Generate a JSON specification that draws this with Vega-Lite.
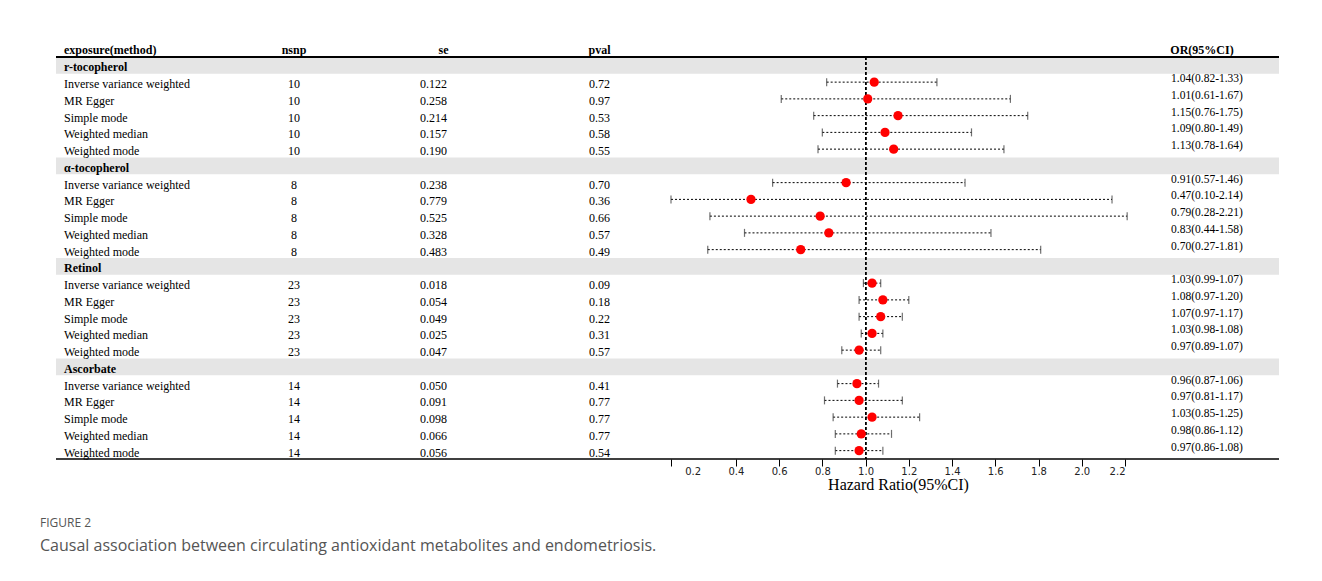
{
  "$schema": "https://vega.github.io/schema/vega-lite/v6.json",
  "background": "white",
  "padding": {"left": 40, "top": 44, "right": 5, "bottom": 5},
  "spacing": 0,
  "bounds": "flush",
  "title": {
    "text": "FIGURE 2",
    "subtitle": "Causal association between circulating antioxidant metabolites and endometriosis.",
    "orient": "bottom",
    "anchor": "start",
    "dx": -15,
    "offset": 26,
    "font": "Open Sans",
    "fontSize": 12,
    "fontWeight": "normal",
    "color": "#555555",
    "subtitleFont": "Open Sans",
    "subtitleFontSize": 16,
    "subtitleColor": "#555555",
    "subtitlePadding": 8
  },
  "data": {
    "values": [
      {"row": 1, "type": "group", "label": "r-tocopherol"},
      {"row": 2, "type": "method", "label": "Inverse variance weighted", "nsnp": "10", "se": "0.122", "pval": "0.72", "or": 1.04, "lo": 0.82, "hi": 1.33, "orci": "1.04(0.82-1.33)"},
      {"row": 3, "type": "method", "label": "MR Egger", "nsnp": "10", "se": "0.258", "pval": "0.97", "or": 1.01, "lo": 0.61, "hi": 1.67, "orci": "1.01(0.61-1.67)"},
      {"row": 4, "type": "method", "label": "Simple mode", "nsnp": "10", "se": "0.214", "pval": "0.53", "or": 1.15, "lo": 0.76, "hi": 1.75, "orci": "1.15(0.76-1.75)"},
      {"row": 5, "type": "method", "label": "Weighted median", "nsnp": "10", "se": "0.157", "pval": "0.58", "or": 1.09, "lo": 0.80, "hi": 1.49, "orci": "1.09(0.80-1.49)"},
      {"row": 6, "type": "method", "label": "Weighted mode", "nsnp": "10", "se": "0.190", "pval": "0.55", "or": 1.13, "lo": 0.78, "hi": 1.64, "orci": "1.13(0.78-1.64)"},
      {"row": 7, "type": "group", "label": "α-tocopherol"},
      {"row": 8, "type": "method", "label": "Inverse variance weighted", "nsnp": "8", "se": "0.238", "pval": "0.70", "or": 0.91, "lo": 0.57, "hi": 1.46, "orci": "0.91(0.57-1.46)"},
      {"row": 9, "type": "method", "label": "MR Egger", "nsnp": "8", "se": "0.779", "pval": "0.36", "or": 0.47, "lo": 0.10, "hi": 2.14, "orci": "0.47(0.10-2.14)"},
      {"row": 10, "type": "method", "label": "Simple mode", "nsnp": "8", "se": "0.525", "pval": "0.66", "or": 0.79, "lo": 0.28, "hi": 2.21, "orci": "0.79(0.28-2.21)"},
      {"row": 11, "type": "method", "label": "Weighted median", "nsnp": "8", "se": "0.328", "pval": "0.57", "or": 0.83, "lo": 0.44, "hi": 1.58, "orci": "0.83(0.44-1.58)"},
      {"row": 12, "type": "method", "label": "Weighted mode", "nsnp": "8", "se": "0.483", "pval": "0.49", "or": 0.70, "lo": 0.27, "hi": 1.81, "orci": "0.70(0.27-1.81)"},
      {"row": 13, "type": "group", "label": "Retinol"},
      {"row": 14, "type": "method", "label": "Inverse variance weighted", "nsnp": "23", "se": "0.018", "pval": "0.09", "or": 1.03, "lo": 0.99, "hi": 1.07, "orci": "1.03(0.99-1.07)"},
      {"row": 15, "type": "method", "label": "MR Egger", "nsnp": "23", "se": "0.054", "pval": "0.18", "or": 1.08, "lo": 0.97, "hi": 1.20, "orci": "1.08(0.97-1.20)"},
      {"row": 16, "type": "method", "label": "Simple mode", "nsnp": "23", "se": "0.049", "pval": "0.22", "or": 1.07, "lo": 0.97, "hi": 1.17, "orci": "1.07(0.97-1.17)"},
      {"row": 17, "type": "method", "label": "Weighted median", "nsnp": "23", "se": "0.025", "pval": "0.31", "or": 1.03, "lo": 0.98, "hi": 1.08, "orci": "1.03(0.98-1.08)"},
      {"row": 18, "type": "method", "label": "Weighted mode", "nsnp": "23", "se": "0.047", "pval": "0.57", "or": 0.97, "lo": 0.89, "hi": 1.07, "orci": "0.97(0.89-1.07)"},
      {"row": 19, "type": "group", "label": "Ascorbate"},
      {"row": 20, "type": "method", "label": "Inverse variance weighted", "nsnp": "14", "se": "0.050", "pval": "0.41", "or": 0.96, "lo": 0.87, "hi": 1.06, "orci": "0.96(0.87-1.06)"},
      {"row": 21, "type": "method", "label": "MR Egger", "nsnp": "14", "se": "0.091", "pval": "0.77", "or": 0.97, "lo": 0.81, "hi": 1.17, "orci": "0.97(0.81-1.17)"},
      {"row": 22, "type": "method", "label": "Simple mode", "nsnp": "14", "se": "0.098", "pval": "0.77", "or": 1.03, "lo": 0.85, "hi": 1.25, "orci": "1.03(0.85-1.25)"},
      {"row": 23, "type": "method", "label": "Weighted median", "nsnp": "14", "se": "0.066", "pval": "0.77", "or": 0.98, "lo": 0.86, "hi": 1.12, "orci": "0.98(0.86-1.12)"},
      {"row": 24, "type": "method", "label": "Weighted mode", "nsnp": "14", "se": "0.056", "pval": "0.54", "or": 0.97, "lo": 0.86, "hi": 1.08, "orci": "0.97(0.86-1.08)"}
    ]
  },
  "resolve": {"scale": {"x": "independent", "y": "shared"}},
  "hconcat": [
    {
      "width": 193,
      "height": 402,
      "title": {"text": "exposure(method)", "anchor": "start", "dx": 9, "offset": -1, "font": "Liberation Serif", "fontSize": 12, "fontWeight": "bold", "color": "black"},
      "layer": [
        {"transform": [{"filter": "datum.type === 'group'"}], "mark": {"type": "rect", "color": "#e5e5e5"}, "encoding": {"y": {"field": "row", "type": "ordinal", "axis": null, "scale": {"paddingInner": 0, "paddingOuter": 0}}}},
        {"transform": [{"filter": "datum.row === 1"}], "mark": {"type": "rule", "color": "black", "strokeWidth": 2}, "encoding": {"y": {"field": "row", "type": "ordinal", "bandPosition": 0}}},
        {"transform": [{"filter": "datum.row === 24"}], "mark": {"type": "rule", "color": "black", "strokeWidth": 1.5}, "encoding": {"y": {"field": "row", "type": "ordinal", "bandPosition": 1}}},
        {"transform": [{"filter": "datum.type === 'group'"}], "mark": {"type": "text", "align": "left", "dx": 8, "dy": 2, "font": "Liberation Serif", "fontSize": 12, "fontWeight": "bold", "color": "black"}, "encoding": {"y": {"field": "row", "type": "ordinal"}, "x": {"datum": 0, "type": "quantitative", "scale": {"domain": [0, 1]}, "axis": null}, "text": {"field": "label"}}},
        {"transform": [{"filter": "datum.type === 'method'"}], "mark": {"type": "text", "align": "left", "dx": 8, "dy": 2, "font": "Liberation Serif", "fontSize": 12, "color": "black"}, "encoding": {"y": {"field": "row", "type": "ordinal"}, "x": {"datum": 0, "type": "quantitative", "scale": {"domain": [0, 1]}, "axis": null}, "text": {"field": "label"}}}
      ]
    },
    {
      "width": 90,
      "height": 402,
      "title": {"text": "nsnp", "anchor": "middle", "offset": -1, "font": "Liberation Serif", "fontSize": 12, "fontWeight": "bold", "color": "black"},
      "layer": [
        {"transform": [{"filter": "datum.type === 'group'"}], "mark": {"type": "rect", "color": "#e5e5e5"}, "encoding": {"y": {"field": "row", "type": "ordinal", "axis": null, "scale": {"paddingInner": 0, "paddingOuter": 0}}}},
        {"transform": [{"filter": "datum.row === 1"}], "mark": {"type": "rule", "color": "black", "strokeWidth": 2}, "encoding": {"y": {"field": "row", "type": "ordinal", "bandPosition": 0}}},
        {"transform": [{"filter": "datum.row === 24"}], "mark": {"type": "rule", "color": "black", "strokeWidth": 1.5}, "encoding": {"y": {"field": "row", "type": "ordinal", "bandPosition": 1}}},
        {"transform": [{"filter": "datum.type === 'method'"}], "mark": {"type": "text", "dy": 2, "font": "Liberation Serif", "fontSize": 12, "color": "black"}, "encoding": {"y": {"field": "row", "type": "ordinal"}, "text": {"field": "nsnp"}}}
      ]
    },
    {
      "width": 189,
      "height": 402,
      "title": {"text": "se", "anchor": "middle", "dx": 10, "offset": -1, "font": "Liberation Serif", "fontSize": 12, "fontWeight": "bold", "color": "black"},
      "layer": [
        {"transform": [{"filter": "datum.type === 'group'"}], "mark": {"type": "rect", "color": "#e5e5e5"}, "encoding": {"y": {"field": "row", "type": "ordinal", "axis": null, "scale": {"paddingInner": 0, "paddingOuter": 0}}}},
        {"transform": [{"filter": "datum.row === 1"}], "mark": {"type": "rule", "color": "black", "strokeWidth": 2}, "encoding": {"y": {"field": "row", "type": "ordinal", "bandPosition": 0}}},
        {"transform": [{"filter": "datum.row === 24"}], "mark": {"type": "rule", "color": "black", "strokeWidth": 1.5}, "encoding": {"y": {"field": "row", "type": "ordinal", "bandPosition": 1}}},
        {"transform": [{"filter": "datum.type === 'method'"}], "mark": {"type": "text", "dy": 2, "font": "Liberation Serif", "fontSize": 12, "color": "black"}, "encoding": {"y": {"field": "row", "type": "ordinal"}, "text": {"field": "se"}}}
      ]
    },
    {
      "width": 143,
      "height": 402,
      "title": {"text": "pval", "anchor": "middle", "offset": -1, "font": "Liberation Serif", "fontSize": 12, "fontWeight": "bold", "color": "black"},
      "layer": [
        {"transform": [{"filter": "datum.type === 'group'"}], "mark": {"type": "rect", "color": "#e5e5e5"}, "encoding": {"y": {"field": "row", "type": "ordinal", "axis": null, "scale": {"paddingInner": 0, "paddingOuter": 0}}}},
        {"transform": [{"filter": "datum.row === 1"}], "mark": {"type": "rule", "color": "black", "strokeWidth": 2}, "encoding": {"y": {"field": "row", "type": "ordinal", "bandPosition": 0}}},
        {"transform": [{"filter": "datum.row === 24"}], "mark": {"type": "rule", "color": "black", "strokeWidth": 1.5}, "encoding": {"y": {"field": "row", "type": "ordinal", "bandPosition": 1}}},
        {"transform": [{"filter": "datum.type === 'method'"}], "mark": {"type": "text", "dy": 2, "font": "Liberation Serif", "fontSize": 12, "color": "black"}, "encoding": {"y": {"field": "row", "type": "ordinal"}, "text": {"field": "pval"}}}
      ]
    },
    {
      "width": 454,
      "height": 402,
      "layer": [
        {"transform": [{"filter": "datum.type === 'group'"}], "mark": {"type": "rect", "color": "#e5e5e5"}, "encoding": {"y": {"field": "row", "type": "ordinal", "axis": null, "scale": {"paddingInner": 0, "paddingOuter": 0}}}},
        {"transform": [{"filter": "datum.row === 1"}], "mark": {"type": "rule", "color": "black", "strokeWidth": 2}, "encoding": {"y": {"field": "row", "type": "ordinal", "bandPosition": 0}}},
        {"transform": [{"filter": "datum.row === 24"}], "mark": {"type": "rule", "color": "black", "strokeWidth": 1.5}, "encoding": {"y": {"field": "row", "type": "ordinal", "bandPosition": 1}}},
        {"transform": [{"filter": "datum.type === 'method'"}], "mark": {"type": "rule", "color": "black", "strokeWidth": 1, "strokeDash": [2, 2]}, "encoding": {
          "y": {"field": "row", "type": "ordinal"},
          "x": {"field": "lo", "type": "quantitative", "scale": {"domain": [0.1, 2.2], "nice": false, "zero": false}, "axis": {
            "values": [0.1, 0.2, 0.4, 0.6, 0.8, 1.0, 1.2, 1.4, 1.6, 1.8, 2.0, 2.2],
            "labelExpr": "datum.value < 0.15 ? '' : format(datum.value, '.1f')",
            "title": "Hazard Ratio(95%CI)",
            "grid": false, "domain": false,
            "tickColor": "black", "tickSize": 7, "tickWidth": 1,
            "tickOpacity": {"condition": {"test": "abs(datum.value - 0.2) < 0.01", "value": 0}, "value": 1},
            "labelFont": "DejaVu Sans", "labelFontSize": 10, "labelColor": "#222222", "labelPadding": 0,
            "titleFont": "Liberation Serif", "titleFontSize": 16, "titleFontWeight": "normal", "titleColor": "black", "titlePadding": 0
          }},
          "x2": {"field": "hi"}
        }},
        {"transform": [{"filter": "datum.type === 'method'"}], "mark": {"type": "tick", "color": "#333333", "size": 8, "thickness": 1.2}, "encoding": {"y": {"field": "row", "type": "ordinal"}, "x": {"field": "lo", "type": "quantitative"}}},
        {"transform": [{"filter": "datum.type === 'method'"}], "mark": {"type": "tick", "color": "#333333", "size": 8, "thickness": 1.2}, "encoding": {"y": {"field": "row", "type": "ordinal"}, "x": {"field": "hi", "type": "quantitative"}}},
        {"mark": {"type": "rule", "color": "black", "strokeWidth": 1, "strokeDash": [3, 2]}, "encoding": {"x": {"datum": 1}}},
        {"transform": [{"filter": "datum.type === 'method'"}], "mark": {"type": "point", "filled": true, "shape": "circle", "color": "#ff0000", "size": 85, "opacity": 1}, "encoding": {"y": {"field": "row", "type": "ordinal"}, "x": {"field": "or", "type": "quantitative"}}}
      ]
    },
    {
      "width": 154,
      "height": 402,
      "title": {"text": "OR(95%CI)", "anchor": "middle", "offset": -1, "font": "Liberation Serif", "fontSize": 12, "fontWeight": "bold", "color": "black"},
      "layer": [
        {"transform": [{"filter": "datum.type === 'group'"}], "mark": {"type": "rect", "color": "#e5e5e5"}, "encoding": {"y": {"field": "row", "type": "ordinal", "axis": null, "scale": {"paddingInner": 0, "paddingOuter": 0}}}},
        {"transform": [{"filter": "datum.row === 1"}], "mark": {"type": "rule", "color": "black", "strokeWidth": 2}, "encoding": {"y": {"field": "row", "type": "ordinal", "bandPosition": 0}}},
        {"transform": [{"filter": "datum.row === 24"}], "mark": {"type": "rule", "color": "black", "strokeWidth": 1.5}, "encoding": {"y": {"field": "row", "type": "ordinal", "bandPosition": 1}}},
        {"transform": [{"filter": "datum.type === 'method'"}], "mark": {"type": "text", "dx": 5, "dy": -3, "font": "Liberation Serif", "fontSize": 11.5, "color": "black"}, "encoding": {"y": {"field": "row", "type": "ordinal"}, "text": {"field": "orci"}}}
      ]
    }
  ],
  "config": {"view": {"stroke": null}}
}
